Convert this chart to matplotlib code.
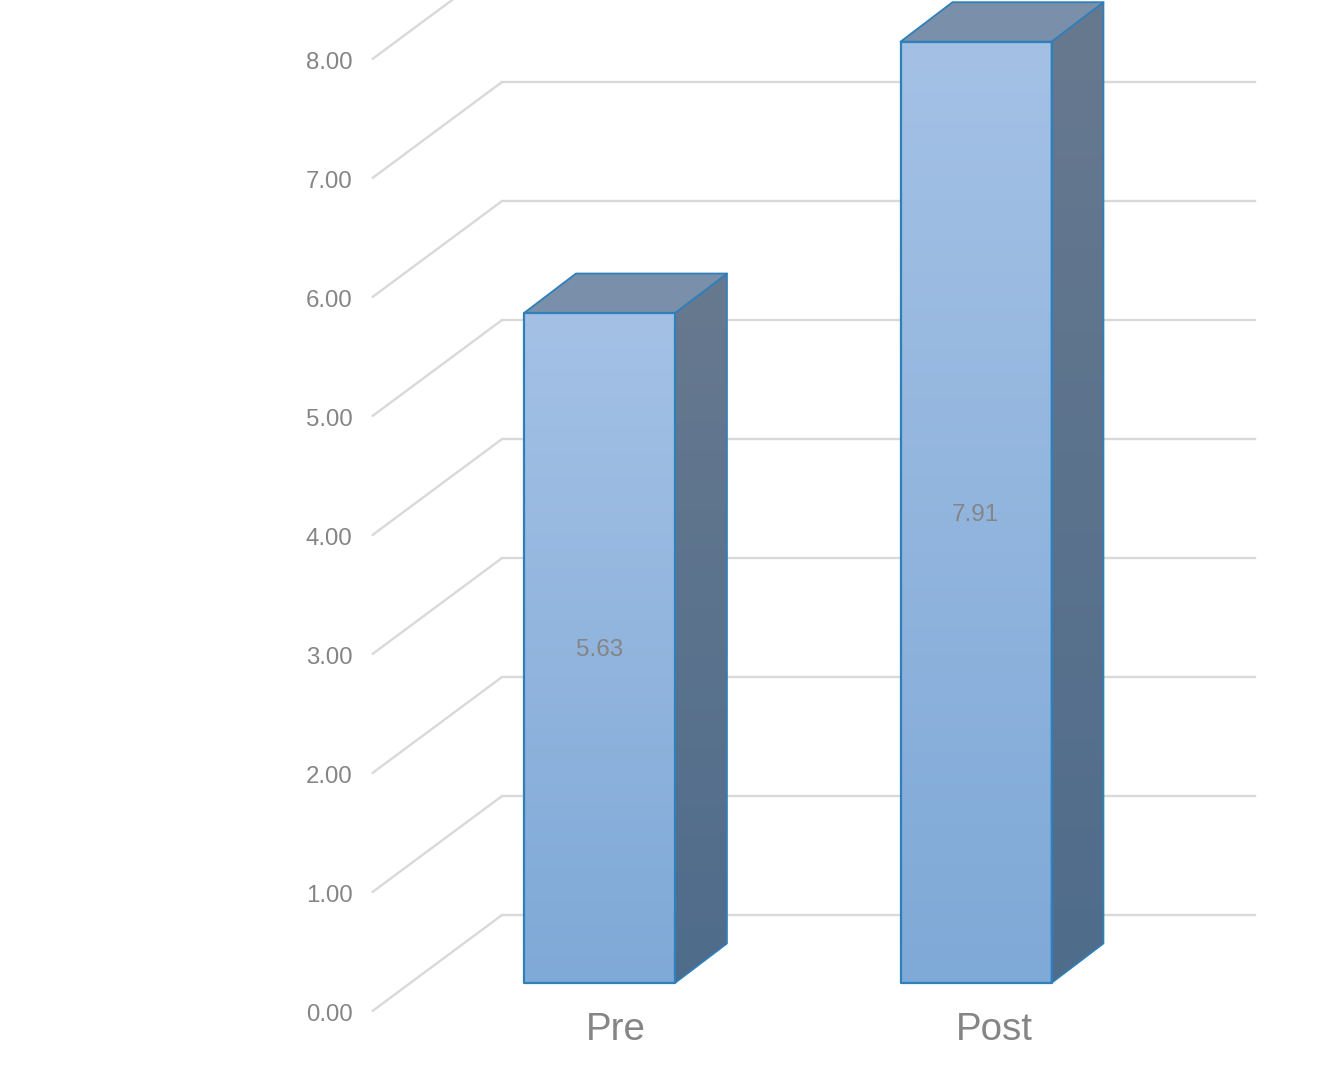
import numpy as np
import matplotlib
matplotlib.use('Agg')
import matplotlib.pyplot as plt
from matplotlib.colors import LinearSegmentedColormap
from matplotlib.patches import Polygon

plt.rcParams['font.family'] = ['Liberation Sans', 'DejaVu Sans']

## the data
categories = ['Pre', 'Post']
values = [5.63, 7.91]
value_labels = ['5.63', '7.91']
y_ticks = [0, 1, 2, 3, 4, 5, 6, 7, 8]
back_lines = [0, 1, 2, 3, 4, 5, 6, 7]

W, H = 1340, 1075
PX_Y = 119.0      # pixels per unit on y
PX_X = 376.5      # pixels per category step
fig = plt.figure(figsize=(W / 100, H / 100), dpi=100)
ax = fig.add_axes([0, 0, 1, 1])
ax.set_xlim(-600 / PX_X, (W - 600) / PX_X)
ax.set_ylim(-(H - 983) / PX_Y, 983 / PX_Y)
ax.axis('off')

# offsets in data units
bar_w = 151 / PX_X
dx, dy = 52 / PX_X, 39.5 / PX_Y
wall_x0 = (372.5 - 600) / PX_X
wall_x1 = (501.5 - 600) / PX_X
wall_x2 = (1254.5 - 600) / PX_X
wall_drop = (1011 - 983) / PX_Y   # front edge sits below the bar base
wall_rise = 95.6 / PX_Y

grid_c = '#d9d9d9'
edge_c = '#2e7fba'
text_c = '#858585'
front_cmap = LinearSegmentedColormap.from_list('front', ['#7fa9d7', '#a4c1e5'])
side_cmap = LinearSegmentedColormap.from_list('side', ['#4f6c8b', '#67798f'])
grad = np.linspace(0, 1, 256).reshape(-1, 1)

## the walls
for v in y_ticks:
    ax.plot([wall_x0, wall_x1], [v - wall_drop, v - wall_drop + wall_rise],
            color=grid_c, lw=1.7, solid_capstyle='round', zorder=1)
for v in back_lines:
    ax.plot([wall_x1, wall_x2], [v - wall_drop + wall_rise] * 2,
            color=grid_c, lw=1.7, zorder=1)

## the bars
for i, v in enumerate(values):
    x0 = i - bar_w / 2 - 0.5 / PX_X
    x1 = i + bar_w / 2 - 0.5 / PX_X
    im = ax.imshow(grad, origin='lower', cmap=front_cmap, aspect='auto',
                   extent=(x0, x1, 0, v), zorder=3)
    front = Polygon([(x0, 0), (x1, 0), (x1, v), (x0, v)], closed=True,
                    fc='none', ec=edge_c, lw=1.6, joinstyle='round', zorder=5)
    ax.add_patch(front)

    side_pts = [(x1, 0), (x1 + dx, dy), (x1 + dx, v + dy), (x1, v)]
    side_clip = Polygon(side_pts, closed=True, transform=ax.transData)
    im2 = ax.imshow(grad, origin='lower', cmap=side_cmap, aspect='auto',
                    extent=(x1, x1 + dx, 0, v + dy), zorder=2.5)
    im2.set_clip_path(side_clip)
    ax.add_patch(Polygon(side_pts, closed=True, fc='none', ec=edge_c, lw=1.2,
                         joinstyle='round', zorder=4))

    ax.add_patch(Polygon([(x0, v), (x1, v), (x1 + dx, v + dy), (x0 + dx, v + dy)],
                         closed=True, fc='#7a90aa', ec=edge_c, lw=1.3,
                         joinstyle='round', zorder=4))

ax.set_xlim(-600 / PX_X, (W - 600) / PX_X)
ax.set_ylim(-(H - 983) / PX_Y, 983 / PX_Y)

## labels
for v in y_ticks:
    ax.text((352.5 - 600) / PX_X, v - wall_drop - 4 / PX_Y,
            '%.2f' % v, ha='right', va='center', fontsize=17.3, color=text_c, zorder=6)
label_x = [(615.5 - 600) / PX_X, (994 - 600) / PX_X]
for x, name in zip(label_x, categories):
    ax.text(x, -(1030 - 983) / PX_Y, name, ha='center', va='center',
            fontsize=27.7, color=text_c, zorder=6)
for i, (v, t) in enumerate(zip(values, value_labels)):
    ax.text(i - 0.002, v / 2 - 0.02, t, ha='center', va='center', fontsize=17.5,
            color=text_c, zorder=6)

fig.savefig('out.png', dpi=100)
